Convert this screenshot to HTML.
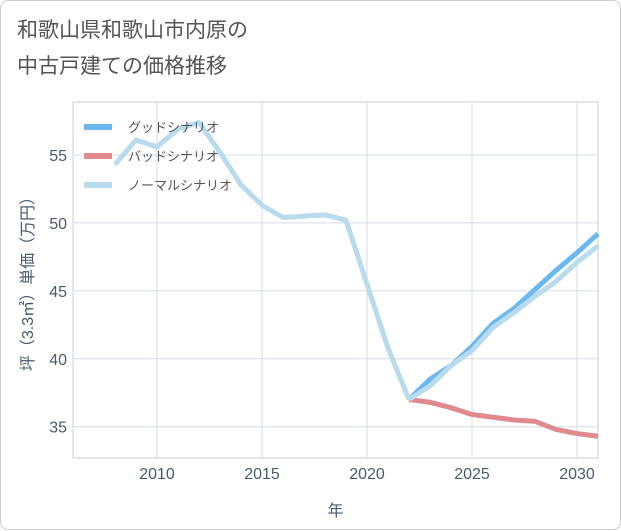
<!DOCTYPE html>
<html><head><meta charset="utf-8"><style>
body{margin:0;background:#fff;}
#wrap{position:relative;width:619px;height:528px;border:1px solid #ccc;border-radius:8px;background:#fff;font-family:"Liberation Sans","Noto Sans CJK JP",sans-serif;}
#title{position:absolute;left:16px;top:12px;font-size:21px;line-height:36px;color:#555;}
svg{position:absolute;left:0;top:0;}
</style></head><body>
<div id="wrap">
<div id="title">和歌山県和歌山市内原の<br>中古戸建ての価格推移</div>
<svg id="chart" width="621" height="530"></svg>
</div>
<script>
const years=[2008,2009,2010,2011,2012,2013,2014,2015,2016,2017,2018,2019,2020,2021,2022];
const histValues=[54.3,56.1,55.6,56.9,57.4,55.2,52.8,51.3,50.4,50.5,50.6,50.2,45.5,40.8,37.0];
const futYears=[2022,2023,2024,2025,2026,2027,2028,2029,2030,2031];
const goodValues=[37.0,38.5,39.5,40.9,42.6,43.7,45.1,46.5,47.8,49.2];
const badValues=[37.0,36.8,36.4,35.9,35.7,35.5,35.4,34.8,34.5,34.3];
const normalValues=[37.0,38.0,39.5,40.6,42.3,43.4,44.6,45.7,47.1,48.3];
const xTicks=[2010,2015,2020,2025,2030];
const yTicks=[35,40,45,50,55];
const legendLabels=["グッドシナリオ","バッドシナリオ","ノーマルシナリオ"];
const colors=["#6bb8ee","#e08a8e","#b8dcee"];

const L=72,R=597,T=101,B=457;
const x=v=>L+(v-2006)*(R-L)/25;
const y=v=>B-(v-32.7)*(B-T)/(58.9-32.7);
const svg=document.getElementById('chart');
const NS='http://www.w3.org/2000/svg';
function mk(t,a){const e=document.createElementNS(NS,t);for(const k in a)e.setAttribute(k,a[k]);svg.appendChild(e);return e;}
let e=mk('rect',{x:L,y:T,width:R-L,height:B-T,fill:'#fff',stroke:'#c8d0d8'});


xTicks.forEach(t=>{
 let g=mk('line',{x1:x(t),x2:x(t),y1:T,y2:B,stroke:'#d3dce6'});
 
 
 let s=mk('text',{x:x(t),y:B+21,'font-size':16,fill:'#4a5a6a','text-anchor':'middle'});s.textContent=t;
 
 
});
yTicks.forEach(t=>{
 let g=mk('line',{x1:L,x2:R,y1:y(t),y2:y(t),stroke:'#d3dce6'});
 
 
 let s=mk('text',{x:L-6,y:y(t)+6,'font-size':16,fill:'#4a5a6a','text-anchor':'end'});s.textContent=t;
 
 
});
function line(xs,vs,c,name){
 const p=mk('polyline',{points:xs.map((v,i)=>x(v)+','+y(vs[i])).join(' '),fill:'none',stroke:c,'stroke-width':5,'stroke-linejoin':'round'});
 
 
}
line(futYears,badValues,colors[1],'bad-scenario-line');
line(futYears,goodValues,colors[0],'good-scenario-line');
line(futYears,normalValues,colors[2],'normal-scenario-line');
line(years,histValues,colors[2],'historical-line');
legendLabels.forEach((lb,i)=>{
 const ly=126+i*29;
 let l=mk('line',{x1:83,x2:111,y1:ly,y2:ly,stroke:colors[i],'stroke-width':6});
 
 
 let s=mk('text',{x:127,y:ly+5,'font-size':13,fill:'#555'});s.textContent=lb;
 
 
});
let xt=mk('text',{x:(L+R)/2,y:515,'font-size':16,fill:'#4a5a6a','text-anchor':'middle'});xt.textContent='年';


let yt=mk('text',{x:0,y:0,'font-size':16,fill:'#4a5a6a','text-anchor':'middle',transform:'translate(32,'+((T+B)/2)+') rotate(-90)'});yt.textContent='坪（3.3㎡）単価（万円）';


</script>
</body></html>
